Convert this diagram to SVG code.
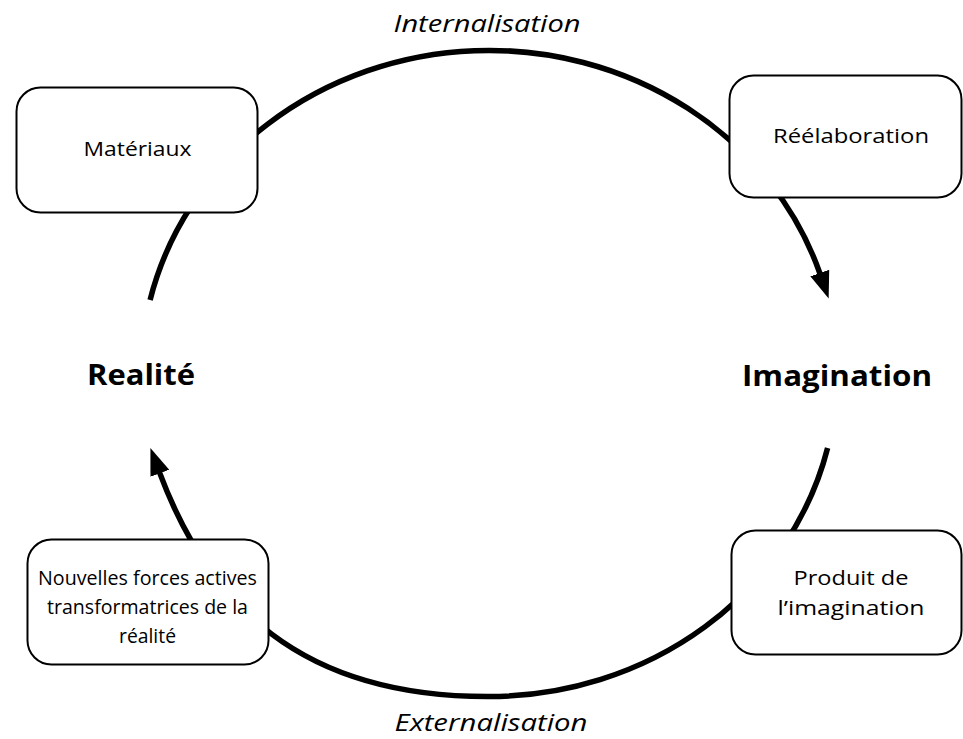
<svg xmlns="http://www.w3.org/2000/svg" width="963" height="739" viewBox="0 0 963 739">
<style>
.box{fill:#fff;stroke:#000;stroke-width:2}
.t{font-family:"Open Sans","Noto Sans","Liberation Sans",sans-serif;fill:#000;text-anchor:middle}
.bt{font-size:20.5px}
.big{font-size:29px;font-weight:bold}
.it{font-size:24px;font-style:italic}
.arc{fill:none;stroke:#000;stroke-width:5.5}
</style>
<defs>
<marker id="ah" markerUnits="userSpaceOnUse" markerWidth="30" markerHeight="24" viewBox="0 -12 30 24" refX="1" refY="0" orient="auto">
<path d="M0,-10 L27,0 L0,10 z" fill="#000"/>
</marker>
</defs>
<g id="connectors">
<path class="arc" d="M150.1,300 A348 323 0 0 1 820.1,274" marker-end="url(#ah)"/>
<path class="arc" d="M827.6,448 A348 323 0 0 1 489,696.5 C299,697 208.5,603.6 159.5,472.4" marker-end="url(#ah)"/>
</g>
<g id="label-internalisation"><text class="t it" x="487" y="32" textLength="187" lengthAdjust="spacingAndGlyphs">Internalisation</text></g>
<g id="label-externalisation"><text class="t it" x="491" y="731" textLength="193" lengthAdjust="spacingAndGlyphs">Externalisation</text></g>
<g id="realite"><text class="t big" x="141" y="385" textLength="108" lengthAdjust="spacingAndGlyphs">Realité</text></g>
<g id="imagination"><text class="t big" x="837" y="386" textLength="190" lengthAdjust="spacingAndGlyphs">Imagination</text></g>
<g id="materiaux">
<rect class="box" x="16.5" y="87.5" width="241" height="125" rx="24"/>
<text class="t bt" x="137.5" y="156" textLength="108" lengthAdjust="spacingAndGlyphs">Matériaux</text>
</g>
<g id="reelaboration">
<rect class="box" x="729.5" y="75.5" width="232" height="122" rx="24"/>
<text class="t bt" x="851" y="143" textLength="156" lengthAdjust="spacingAndGlyphs">Réélaboration</text>
</g>
<g id="produit">
<rect class="box" x="731.5" y="530.5" width="230" height="124" rx="24"/>
<text class="t bt" x="851" y="585" textLength="115" lengthAdjust="spacingAndGlyphs">Produit de</text>
<text class="t bt" x="851" y="615" textLength="147" lengthAdjust="spacingAndGlyphs">l’imagination</text>
</g>
<g id="nouvelles">
<rect class="box" x="27.5" y="539.5" width="241" height="125" rx="24"/>
<text class="t bt" x="147.5" y="585" textLength="219" lengthAdjust="spacingAndGlyphs">Nouvelles forces actives</text>
<text class="t bt" x="147.5" y="614" textLength="201" lengthAdjust="spacingAndGlyphs">transformatrices de la</text>
<text class="t bt" x="147.5" y="643" textLength="57" lengthAdjust="spacingAndGlyphs">réalité</text>
</g>
</svg>
